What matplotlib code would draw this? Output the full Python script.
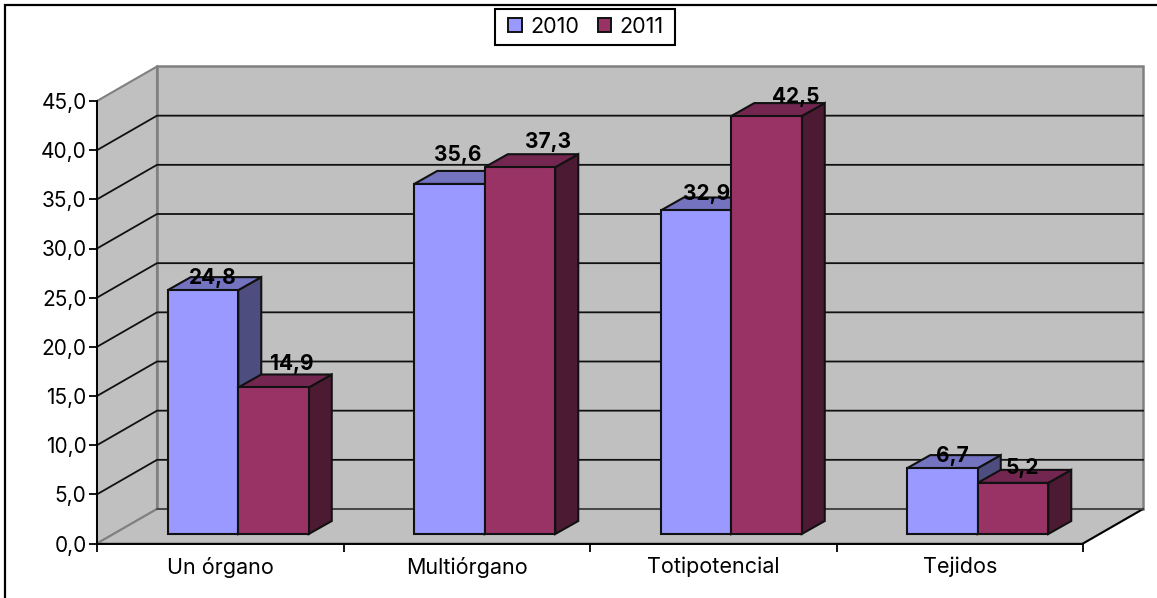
import matplotlib
matplotlib.use("Agg")
import matplotlib.pyplot as plt
from matplotlib.lines import Line2D
from matplotlib.patches import Polygon, Rectangle

categories = ["Un órgano", "Multiórgano", "Totipotencial", "Tejidos"]
values_2010 = [24.8, 35.6, 32.9, 6.7]
values_2011 = [14.9, 37.3, 42.5, 5.2]
y_ticks = [0, 5, 10, 15, 20, 25, 30, 35, 40, 45]

# label offsets from the top centre of each bar, in points
nudge_2010 = [(7, 9), (6, 21), (8, 12), (7, 9)]
nudge_2011 = [(13, 17), (20, 18), (21, 14), (7, 11)]

W, H = 1157, 598
plt.rcParams["font.family"] = ["Inter", "Liberation Sans", "DejaVu Sans"]

fig = plt.figure(figsize=(W / 100, H / 100), dpi=100)
fig.patch.set_facecolor("white")
# outer border, only left and top fall inside the image
fig.add_artist(Line2D([5.5 / W, 5.5 / W, 1], [0, 1 - 5 / H, 1 - 5 / H], transform=fig.transFigure,
                      color="black", linewidth=1.6, solid_joinstyle="miter"))

ax = fig.add_axes([97 / W, 1 - 543.5 / H, 986 / W, 442.5 / H])
ax.set_xlim(0, 4)
ax.set_ylim(0, 45)
ax.patch.set_visible(False)

# oblique depth of the box, in data units
dx = 60 / 246.5
dy = 34.5 / 9.833
# depth of the bars and where they stand on the floor
bar_dx = 23 / 246.5
bar_dy = 13 / 9.833
shift_x = 18 / 246.5
shift_y = 9.5 / 9.833
bar_w = 70.5 / 246.5

wall = "#c0c0c0"
edge = "#808080"

def add_poly(points, face, line, lw=1.5, z=1):
    ax.add_patch(Polygon(points, closed=True, facecolor=face, edgecolor=line,
                         linewidth=lw, zorder=z, clip_on=False, joinstyle="miter"))

# walls and floor
add_poly([(0, 0), (dx, dy), (dx, 45 + dy), (0, 45)], wall, edge)
add_poly([(dx, dy), (4 + dx, dy), (4 + dx, 45 + dy), (dx, 45 + dy)], wall, edge, lw=1.8)
add_poly([(0, 0), (4, 0), (4 + dx, dy), (dx, dy)], wall, edge)
ax.plot([4, 4 + dx], [0, dy], color="black", lw=1.4, zorder=2, clip_on=False)

# grid lines on the back and side wall
for v in y_ticks[1:-1]:
    ax.plot([0, dx, 4 + dx], [v, v + dy, v + dy], color="#111111", lw=1.3, zorder=2, clip_on=False)
ax.plot([dx, 4 + dx], [dy, dy], color="#444444", lw=1.3, zorder=2, clip_on=False)

def draw_bar(x0, val, front, top, side):
    x1 = x0 + bar_w
    y0 = shift_y
    y1 = shift_y + val
    add_poly([(x1, y0), (x1 + bar_dx, y0 + bar_dy), (x1 + bar_dx, y1 + bar_dy), (x1, y1)], side, "#111111", z=3)
    add_poly([(x0, y1), (x1, y1), (x1 + bar_dx, y1 + bar_dy), (x0 + bar_dx, y1 + bar_dy)], top, "#111111", z=3)
    add_poly([(x0, y0), (x1, y0), (x1, y1), (x0, y1)], front, "#111111", z=4)

for i in range(len(categories)):
    centre = i + 0.5 + shift_x
    draw_bar(centre - bar_w, values_2010[i], "#9999ff", "#7373bf", "#4d4d80")
    draw_bar(centre, values_2011[i], "#993366", "#732650", "#4d1a33")
    ax.annotate(f"{values_2010[i]:.1f}".replace(".", ","),
                (centre - bar_w / 2, shift_y + values_2010[i]), xytext=nudge_2010[i],
                textcoords="offset points", ha="center", va="center",
                fontsize=15, fontweight="bold", color="black", zorder=6, annotation_clip=False)
    ax.annotate(f"{values_2011[i]:.1f}".replace(".", ","),
                (centre + bar_w / 2, shift_y + values_2011[i]), xytext=nudge_2011[i],
                textcoords="offset points", ha="center", va="center",
                fontsize=15, fontweight="bold", color="black", zorder=6, annotation_clip=False)

# axes
for name in ["top", "right"]:
    ax.spines[name].set_visible(False)
for name in ["left", "bottom"]:
    ax.spines[name].set_linewidth(1.4)
    ax.spines[name].set_zorder(5)
ax.set_yticks(y_ticks)
ax.set_yticklabels([f"{v:.1f}".replace(".", ",") for v in y_ticks], fontsize=15)
ax.set_xticks(range(5))
ax.set_xticklabels([])
ax.tick_params(axis="y", length=6, width=1.3, pad=1.5)
ax.tick_params(axis="x", length=6, width=1.3)
for i, name in enumerate(categories):
    ax.annotate(name, (i + 0.5, 0), xytext=(0, -17), textcoords="offset points",
                ha="center", va="center", fontsize=15.5, color="black", annotation_clip=False)

# legend box
fig.add_artist(Rectangle((495 / W, 1 - 45 / H), 180 / W, 36 / H, transform=fig.transFigure,
                         facecolor="white", edgecolor="black", linewidth=1.5))
handles = [Rectangle((0, 0), 1, 1, facecolor="#9999ff", edgecolor="#111111", linewidth=1.4),
           Rectangle((0, 0), 1, 1, facecolor="#993366", edgecolor="#111111", linewidth=1.4)]
leg = fig.legend(handles, ["2010", "2011"], ncol=2, loc="center", bbox_to_anchor=(586 / W, 1 - 27 / H),
                 fontsize=15.5, frameon=False, handlelength=0.62, handleheight=0.62,
                 handletextpad=0.4, columnspacing=0.85, borderpad=0, borderaxespad=0)

plt.savefig("out.png", dpi=100)
